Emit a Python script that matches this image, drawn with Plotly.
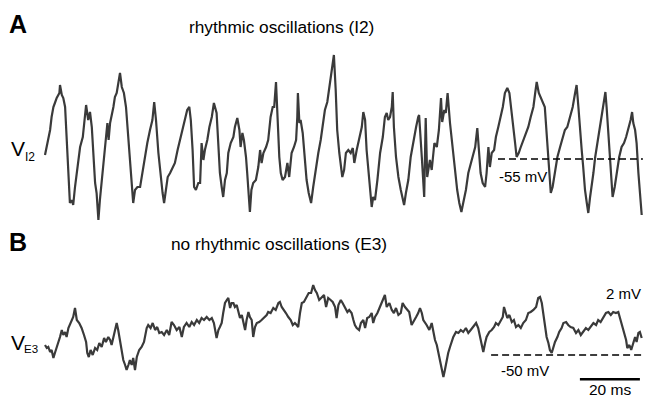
import plotly.graph_objects as go

# ---------------- data (time in ms, membrane potential in mV) ----------------
t_A = [0, 0.6, 1.7, 2.2, 2.8, 3.3, 3.9, 4.8, 5.0, 5.6, 6.1, 6.7, 7.2, 7.8, 8.3, 8.9, 9.4, 10.0, 10.8, 11.7,
       12.6, 13.7, 14.4, 15.0, 15.6, 16.1, 16.7, 17.2, 17.8, 18.3, 18.9, 19.7, 20.3, 20.8, 21.2, 21.7, 22.8, 23.3,
       23.9, 24.4, 25.0, 25.6, 26.3, 27.0, 27.8, 28.6, 29.2, 29.4, 30.0, 30.8, 31.7, 32.6, 33.3, 34.1, 35.0, 35.8,
       36.4, 37.0, 37.8, 38.6, 39.2, 39.7, 40.2, 40.9, 41.7, 42.6, 43.3, 44.2, 45.0, 45.9, 46.7, 47.4, 48.1, 48.6,
       49.2, 49.7, 50.3, 51.1, 51.7, 52.2, 52.8, 53.3, 54.1, 54.8, 55.6, 56.3, 57.2, 57.8, 58.3, 58.9, 59.4, 60.0,
       60.6, 61.1, 61.9, 62.8, 63.3, 64.1, 64.8, 65.2, 65.8, 66.3, 67.0, 67.4, 67.9, 68.3, 68.8, 69.4, 70.3, 71.1,
       71.7, 72.2, 72.8, 73.7, 74.4, 75.2, 75.9, 76.4, 77.0, 77.4, 78.1, 78.6, 79.2, 80.0, 80.8, 81.4, 82.2, 83.0,
       83.7, 84.1, 84.3, 84.8, 85.2, 85.9, 86.6, 87.2, 87.9, 88.7, 89.4, 90.3, 91.1, 91.9, 92.6, 93.3, 94.1, 94.7,
       95.2, 95.9, 96.3, 96.9, 97.4, 98.1, 98.7, 99.1, 99.7, 100.3, 101.1, 101.9, 102.6, 103.1, 103.9, 104.7, 105.6,
       106.1, 106.7, 107.2, 107.8, 108.3, 108.9, 109.4, 110.0, 110.8, 111.7, 112.6, 113.3, 113.9, 114.4, 115.0,
       115.6, 115.9, 116.3, 117.0, 117.8, 118.6, 119.2, 119.7, 120.3, 121.1, 121.9, 122.8, 123.7, 124.4, 124.7,
       125.6, 126.4, 126.9, 127.4, 128.3, 128.9, 129.8, 130.6, 131.3, 132.0, 132.4, 133.1, 133.6, 134.2, 135.0,
       136.1, 136.7, 137.4, 138.1, 138.8, 139.4, 140.3, 141.1, 141.9, 142.8, 143.4, 144.1, 144.6, 145.2, 145.9,
       146.7, 147.2, 147.8, 148.3, 148.9, 149.7, 150.3, 151.1, 151.9, 152.6, 153.3, 154.1, 154.8, 155.4, 156.1,
       156.7, 157.2, 157.9, 158.6, 159.4, 160.3, 161.1, 161.9, 162.8, 163.4, 163.9, 164.6, 165.2, 165.9, 166.6,
       167.2, 167.8, 168.6, 169.2, 170.0, 170.8, 171.7, 172.6, 173.3, 174.1, 175.0, 175.9, 176.7, 177.2, 177.8,
       178.3, 178.9, 179.4, 180.0, 180.6, 181.1, 181.7, 182.2, 182.8, 183.4, 184.1, 184.8, 185.6, 186.3, 186.8,
       187.2, 187.9, 188.6, 189.2, 189.9, 190.6, 191.4, 192.2, 193.0, 193.7, 194.4, 195.2, 195.7, 196.1, 196.7,
       197.2, 197.8, 198.3, 198.9]
v_A = [-54.6, -53.8, -52.1, -50.8, -49.8, -49.4, -48.9, -48.4, -47.6, -48.6, -48.9, -49.8, -53.1, -56.4, -59.4,
       -59.1, -59.6, -57.8, -55.8, -53.8, -52.8, -49.6, -51.1, -50.3, -51.8, -54.8, -57.4, -58.4, -61.1, -59.1,
       -57.1, -54.8, -53.1, -51.4, -53.1, -51.4, -49.8, -48.8, -48.4, -47.4, -46.4, -47.8, -48.4, -49.8, -53.1,
       -55.8, -58.1, -59.4, -58.1, -57.8, -57.8, -56.1, -54.8, -53.4, -52.1, -51.1, -49.3, -51.1, -54.4, -57.1,
       -58.4, -59.4, -58.1, -56.8, -56.4, -55.8, -55.4, -54.1, -53.1, -52.1, -51.1, -50.1, -49.8, -51.1, -54.1,
       -57.8, -58.1, -57.4, -57.4, -53.4, -55.1, -54.1, -53.1, -51.8, -50.8, -49.4, -50.4, -53.1, -56.4, -57.8,
       -58.8, -57.1, -56.4, -54.4, -53.4, -52.8, -51.8, -50.9, -52.1, -53.8, -52.4, -53.1, -54.8, -56.4, -58.4,
       -60.3, -58.1, -57.4, -57.1, -55.8, -54.1, -55.4, -54.4, -53.8, -53.1, -50.8, -49.8, -49.8, -47.3, -50.4,
       -54.8, -56.4, -57.1, -56.8, -55.4, -56.8, -54.4, -53.8, -53.1, -50.8, -48.4, -51.4, -51.1, -52.4, -54.8,
       -57.1, -58.4, -59.4, -57.8, -55.8, -54.4, -53.1, -51.8, -50.1, -49.3, -48.1, -46.8, -45.8, -44.6, -48.1,
       -52.1, -54.4, -55.8, -56.8, -56.1, -54.4, -54.1, -54.4, -53.9, -55.4, -54.1, -53.1, -51.8, -50.3, -51.1,
       -54.1, -56.4, -58.4, -59.8, -58.8, -59.1, -57.1, -54.4, -52.8, -50.8, -50.4, -51.1, -50.8, -49.8, -48.3,
       -51.8, -54.8, -56.8, -58.1, -59.1, -59.6, -58.4, -57.1, -54.8, -53.1, -51.8, -50.8, -50.6, -54.8, -58.8,
       -50.9, -56.8, -55.1, -56.1, -53.4, -53.8, -52.1, -48.9, -51.3, -50.1, -50.4, -48.4, -51.4, -54.8, -56.4,
       -58.1, -59.4, -60.3, -59.4, -58.1, -56.4, -55.4, -54.4, -53.8, -51.9, -54.1, -56.4, -57.4, -57.8, -56.4,
       -53.8, -55.8, -54.4, -54.1, -52.8, -51.8, -50.8, -49.8, -48.4, -47.9, -48.4, -49.8, -51.8, -53.4, -54.8,
       -54.4, -53.8, -53.1, -52.4, -51.8, -50.8, -49.8, -48.4, -47.3, -48.4, -48.8, -49.4, -49.8, -52.4, -55.4,
       -58.4, -57.8, -56.4, -54.8, -53.8, -52.8, -52.1, -51.8, -50.8, -49.8, -48.4, -47.6, -49.8, -52.1, -54.1,
       -55.8, -58.1, -59.4, -60.4, -58.8, -57.4, -56.4, -54.8, -53.4, -51.8, -50.4, -49.1, -48.3, -49.8, -53.1,
       -56.4, -58.8, -57.8, -56.4, -54.8, -53.8, -53.4, -52.8, -52.1, -51.1, -50.3, -51.4, -52.1, -53.4, -56.4,
       -58.8, -60.6]

t_B = [0, 0.6, 1.1, 1.7, 2.2, 2.8, 3.3, 3.9, 4.4, 5.0, 5.6, 6.1, 6.7, 7.2, 7.8, 8.3, 8.9, 9.4, 10.0, 10.6,
       11.4, 12.2, 13.0, 13.7, 14.1, 14.6, 15.2, 15.9, 16.7, 17.4, 18.1, 18.9, 19.7, 20.3, 21.1, 21.7, 22.2, 22.8,
       23.3, 23.9, 24.4, 25.0, 25.6, 26.1, 26.7, 27.2, 27.8, 28.3, 28.9, 29.4, 30.0, 30.6, 31.4, 32.2, 33.0, 33.9,
       34.4, 35.2, 35.9, 36.7, 37.4, 38.1, 38.9, 39.7, 40.6, 41.4, 42.2, 43.0, 43.9, 44.8, 45.6, 46.3, 47.2, 48.1,
       48.9, 49.7, 50.6, 51.4, 52.2, 53.0, 53.9, 54.8, 55.6, 56.3, 57.2, 57.8, 58.3, 58.9, 59.4, 60.0, 60.6, 61.1,
       61.7, 62.2, 62.8, 63.3, 63.9, 64.4, 65.0, 65.6, 66.1, 66.7, 67.2, 67.8, 68.3, 68.9, 69.4, 70.0, 70.6, 71.4,
       72.2, 73.0, 73.9, 74.4, 75.2, 76.1, 76.9, 77.8, 78.3, 78.9, 79.7, 80.3, 81.1, 81.9, 82.6, 83.3, 83.9, 84.4,
       85.0, 85.6, 86.3, 87.2, 87.9, 88.7, 89.4, 90.0, 90.6, 91.4, 92.2, 93.0, 93.7, 94.4, 95.2, 95.9, 96.7, 97.2,
       97.8, 98.6, 99.2, 100.0, 100.8, 101.4, 102.2, 102.8, 103.3, 103.9, 104.7, 105.3, 106.1, 106.7, 107.4, 108.1,
       108.9, 109.4, 110.0, 110.8, 111.7, 112.2, 112.8, 113.3, 113.9, 114.8, 115.6, 116.3, 117.0, 117.8, 118.6,
       119.2, 120.0, 120.8, 121.4, 122.2, 123.0, 123.7, 124.4, 125.0, 125.6, 126.1, 127.2, 128.1, 128.9, 129.4,
       130.0, 130.6, 131.1, 131.7, 132.2, 132.8, 133.3, 133.9, 134.4, 135.0, 135.6, 136.1, 137.0, 137.8, 138.6,
       139.4, 140.3, 141.1, 141.9, 142.8, 143.7, 144.4, 145.0, 145.6, 146.1, 146.7, 147.2, 148.1, 148.9, 149.7,
       150.3, 151.1, 151.9, 152.6, 153.0, 153.7, 154.1, 154.8, 155.6, 156.3, 157.0, 157.8, 158.6, 159.4, 160.3,
       161.1, 161.9, 162.8, 163.7, 164.4, 165.0, 165.6, 166.1, 166.7, 167.2, 167.8, 168.3, 168.9, 169.4, 170.0,
       170.8, 171.4, 172.2, 172.8, 173.7, 174.4, 175.2, 176.1, 177.0, 177.8, 178.6, 179.4, 180.3, 181.1, 181.9,
       182.8, 183.7, 184.4, 185.2, 186.1, 187.0, 187.8, 188.6, 189.4, 190.3, 191.1, 191.7, 192.2, 193.0, 193.7,
       194.1, 194.8, 195.4, 196.1, 196.7, 197.2, 197.8, 198.3, 198.9]
v_B = [-49.0, -49.3, -49.2, -49.7, -49.5, -50.3, -49.8, -49.3, -48.7, -48.2, -47.5, -48.0, -47.7, -48.2, -47.3,
       -47.0, -46.5, -46.2, -45.3, -46.5, -46.8, -47.3, -48.0, -48.7, -49.8, -50.2, -49.5, -50.0, -49.3, -49.5,
       -48.8, -49.2, -48.3, -48.7, -48.2, -48.5, -49.0, -48.2, -47.5, -46.8, -47.5, -48.5, -49.5, -50.5, -51.0,
       -51.5, -51.0, -50.5, -51.0, -50.3, -51.5, -50.2, -49.5, -49.2, -48.7, -47.3, -47.0, -47.3, -46.8, -47.5,
       -47.2, -47.8, -47.7, -48.0, -47.5, -48.0, -46.7, -47.0, -47.5, -47.2, -48.2, -47.2, -46.8, -47.2, -46.7,
       -47.0, -46.5, -46.8, -46.3, -46.5, -46.2, -46.5, -46.3, -46.8, -48.3, -47.5, -47.2, -46.8, -45.8, -44.8,
       -44.5, -44.3, -45.3, -44.8, -44.8, -45.2, -45.0, -45.7, -46.3, -46.0, -46.8, -47.5, -46.5, -45.7, -46.2,
       -46.5, -48.2, -47.2, -46.8, -46.7, -46.5, -46.3, -46.0, -45.7, -45.8, -45.3, -45.5, -44.8, -44.7, -45.2,
       -45.5, -45.8, -46.2, -46.5, -47.0, -46.8, -47.0, -47.2, -45.8, -44.8, -44.7, -44.2, -43.8, -43.8, -43.0,
       -43.5, -43.8, -44.5, -44.2, -44.0, -45.2, -44.3, -44.5, -44.7, -45.2, -46.3, -45.0, -44.5, -44.8, -45.3,
       -45.7, -45.5, -45.8, -46.5, -47.0, -47.3, -47.5, -46.8, -46.5, -47.3, -46.3, -46.2, -45.8, -46.8, -46.2,
       -45.8, -45.2, -44.8, -44.5, -44.0, -45.2, -44.8, -45.5, -45.8, -45.3, -46.0, -45.8, -44.8, -45.2, -45.5,
       -45.7, -47.0, -46.5, -46.2, -45.8, -45.3, -45.8, -46.5, -47.0, -47.5, -46.8, -47.8, -48.5, -49.0, -49.7,
       -50.5, -51.5, -52.2, -51.5, -50.5, -49.8, -49.2, -48.5, -48.2, -47.7, -47.8, -47.5, -47.7, -47.3, -47.8,
       -47.5, -47.2, -46.8, -47.3, -48.2, -49.0, -49.7, -48.8, -48.2, -47.7, -47.5, -47.2, -46.8, -47.0, -46.5,
       -46.2, -45.2, -45.8, -46.3, -46.0, -46.7, -46.5, -47.2, -47.0, -47.3, -46.8, -46.5, -45.8, -45.7, -45.5,
       -45.2, -44.3, -44.2, -44.8, -45.8, -47.2, -48.2, -48.8, -49.5, -49.8, -49.2, -48.7, -48.2, -47.7, -47.3,
       -46.8, -46.7, -47.0, -47.2, -47.3, -47.8, -47.5, -48.0, -47.7, -47.3, -47.5, -47.2, -46.8, -47.0, -46.5,
       -46.7, -46.2, -45.8, -45.7, -46.0, -45.7, -45.8, -45.7, -46.3, -47.0, -47.8, -48.5, -49.3, -49.0, -49.5,
       -48.7, -48.2, -48.7, -47.8, -47.7, -48.3]

ref_A = [-55.0]           # dashed reference level, panel A (mV)
ref_B = [-50.0]           # dashed reference level, panel B (mV)
ref_span = [[151.0, 199.3], [148.7, 199.3]]   # ms extents of the dashed lines
scalebar_ms = [178.3, 198.3]                   # 20 ms horizontal scale bar
scalebar_level = -52.43

# ---------------- figure ----------------
W, H = 646, 399
TRACE = "#3a3a3a"
FONT = "Liberation Sans, Arial, Helvetica, sans-serif"

fig = go.Figure()
fig.add_trace(go.Scatter(x=t_A, y=v_A, mode="lines", line=dict(color=TRACE, width=2.2),
                         yaxis="y", hoverinfo="skip", showlegend=False))
fig.add_trace(go.Scatter(x=t_B, y=v_B, mode="lines", line=dict(color=TRACE, width=2.2),
                         yaxis="y2", hoverinfo="skip", showlegend=False))
fig.add_trace(go.Scatter(x=ref_span[0], y=ref_A * 2, mode="lines",
                         line=dict(color="black", width=1.6, dash="7px,4px"),
                         yaxis="y", hoverinfo="skip", showlegend=False))
fig.add_trace(go.Scatter(x=ref_span[1], y=ref_B * 2, mode="lines",
                         line=dict(color="black", width=1.6, dash="7px,4px"),
                         yaxis="y2", hoverinfo="skip", showlegend=False))
fig.add_trace(go.Scatter(x=scalebar_ms, y=[scalebar_level] * 2, mode="lines",
                         line=dict(color="black", width=2.5),
                         yaxis="y2", hoverinfo="skip", showlegend=False))


def px(x, y):
    return x / W, 1 - y / H


def label(text, x, y, size, bold=False):
    ax, ay = px(x, y)
    fig.add_annotation(x=ax, y=ay, xref="paper", yref="paper", text=f"<b>{text}</b>" if bold else text,
                       showarrow=False, xanchor="center", yanchor="middle",
                       font=dict(family=FONT, size=size, color="black"))


label("A", 17.5, 24, 25, bold=True)
label("rhythmic oscillations (I2)", 281.5, 27, 17.3)
label("B", 17.5, 242, 25, bold=True)
label("no rhythmic oscillations (E3)", 279, 244, 17.3)
label("V", 17.5, 148, 21)
label("I2", 30.5, 157, 12)
label("V", 17.5, 342, 21)
label("E3", 31, 348.5, 11.5)
label("-55 mV", 523, 177, 15)
label("-50 mV", 525, 370, 15)
label("2 mV", 623, 293, 15)
label("20 ms", 610, 389, 15.5)

fig.update_layout(
    width=W, height=H, margin=dict(l=0, r=0, t=0, b=0),
    paper_bgcolor="white", plot_bgcolor="white",
    xaxis=dict(range=[-15, 200.333], visible=False, fixedrange=True),
    yaxis=dict(range=[-79, -39.1], visible=False, fixedrange=True),
    yaxis2=dict(range=[-54.4, -14.5], visible=False, overlaying="y", fixedrange=True),
)

fig.write_html("out.html")
